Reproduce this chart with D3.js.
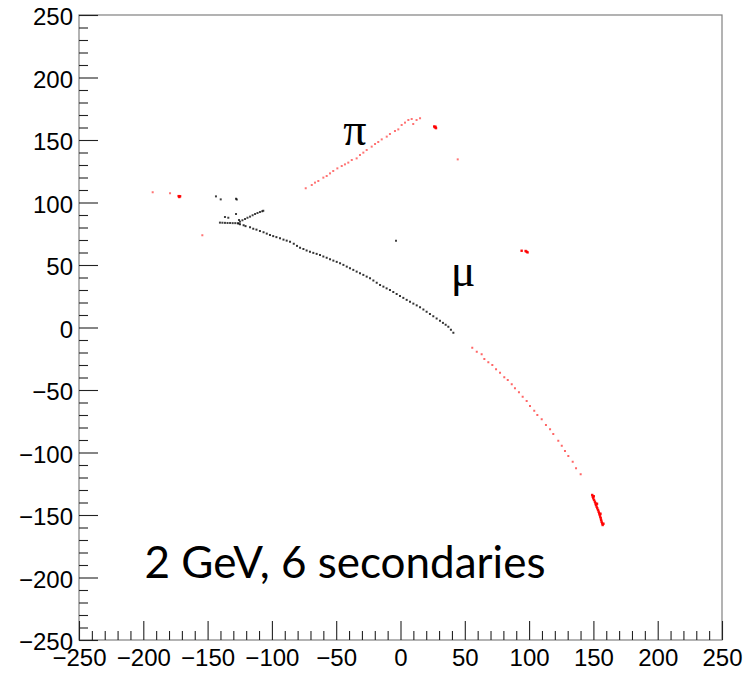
<!DOCTYPE html>
<html>
<head>
<meta charset="utf-8">
<script src="https://cdn.jsdelivr.net/npm/d3@7"></script>
<style>
  body { margin: 0; background: #fff; }
  .axis text { font-family: "Liberation Sans", Arial, sans-serif; font-size: 24px; fill: #000; }
</style>
</head>
<body>
<div id="graph_here"></div>
<script>
const muonTrack = [[-126,83.2],[-124.8,82.6],[-122,81.8],[-120.5,81.1],[-117,80.2],[-114.5,79.0],[-112,78.3],[-109.3,77.2],
  [-106.5,76.2],[-104,75.1],[-101.5,74.0],[-99,73.1],[-96.5,72.3],[-93.7,71.4],[-91,70.3],[-88.5,69.5],[-85.9,68.6],
  [-83,67.0],[-80.5,65.3],[-78.1,63.8],[-75.5,62.8],[-73,61.6],[-70.4,60.6],[-67.8,59.7],[-65.2,58.9],[-62.6,58.0],
  [-60,56.8],[-57.4,55.8],[-54.8,54.6],[-52.2,53.5],[-49.6,52.5],[-47,51.4],[-44.4,50.1],[-41.8,48.7],[-39.3,47.4],
  [-36.7,46.1],[-34.1,44.7],[-31.5,43.4],[-28.9,42.1],[-26.3,40.7],[-23.7,39.4],[-21.1,37.6],[-18.5,35.8],[-15.9,34.0],
  [-13.3,32.7],[-10.8,31.3],[-8.2,30.0],[-5.6,28.4],[-3.0,26.8],[-0.4,25.2],[2.2,23.7],[4.8,22.1],[7.4,20.6],[10.0,19.1],
  [12.6,17.7],[15.2,16.2],[17.8,14.4],[20.3,12.6],[22.9,10.8],[25.5,9.0],[28.1,7.2],[30.7,5.4],[33.0,3.7],[35.1,2.2],
  [37.2,0.6],[39.2,-1.8],[41.1,-4.2]];

const blackHits = [[-140.4,83.9],[-138.5,83.8],[-136.5,83.7],[-134.5,83.6],[-132.5,83.6],[-130.5,83.5],[-128.5,83.5],
  [-126.5,83.4],[-136.5,88.4],[-133.9,87.8],[-127.9,90.8],[-125.6,86],[-124.8,84.7],[-122.9,85.8],[-120.9,86.8],
  [-119,87.8],[-117,88.7],[-115,89.8],[-113.1,90.8],[-111.2,91.6],[-109.3,92.4],[-107.5,93],[-106.7,93.4],
  [-143.5,104.9],[-139.8,102.5],[-127.9,103],[-127.3,102.4],[-3.5,69.4]];

const pionTrack = [[-73.7,111.4],[-69.0,114.0],[-66.5,115.9],[-63.9,117.2],[-60.0,119.9],[-57.4,121.2],[-54.8,123.3],
  [-52.3,125.2],[-49.1,127.3],[-45.7,129.2],[-43.2,130.5],[-40.6,131.9],[-37.9,134],[-34.1,135.3],[-31.5,138],
  [-28.9,139.9],[-26.3,142],[-22.4,144.7],[-19.8,146.8],[-17.3,148.4],[-14.6,150.5],[-10.7,152.7],[-8.2,154.8],
  [-4.3,157.2],[-1.7,158.5],[0.9,162],[3.5,163.9],[6.1,166],[8.7,166.8],[12.5,166],[15.2,167.4],[9.9,162.8],
  [44.5,134.5],[-192.7,108.2],[-179.2,107.4],[-154.1,73.8]];

const lowerTrack = [[55.8,-16.2],[59.3,-19.4],[63.1,-21.4],[65.2,-25.2],[68.3,-27.8],[71.4,-30],[74.3,-33.4],[77.4,-36.2],
  [80.7,-39.8],[83.4,-42],[86.5,-45.4],[89.0,-48.6],[92.1,-51.8],[95.0,-55.4],[98.1,-58.8],[100.7,-62.8],[104.0,-66.6],
  [106.4,-70],[109.8,-73.4],[113.1,-78],[116.3,-81.4],[118.8,-85.2],[122.7,-90.6],[125.4,-94.6],[127.9,-98.8],
  [130.5,-102.8],[133.9,-107.4],[136.5,-112.6],[140.1,-117.4]];

const redBlobs = [[26.8,160.1],[27.6,159.5],[26.2,160.8],[27.2,160.6],[-172,104.4],[-171.4,105],[-172.5,105.1],
  [94.2,61.4],[98.1,60.6],[97.3,61.2],[98.8,60.1],
  [149.1,-134],[149.5,-135.3],[149.9,-136.6],[150.5,-138],[151.2,-139.4],[151.6,-140.7],[152,-142],[152.5,-143.3],
  [153,-144.6],[153.6,-146],[154.1,-147.4],[154.5,-148.7],[154.9,-150],[155.3,-151.3],[155.7,-152.6],[156,-154],
  [156.4,-155.4],[156.8,-156.7],[157.2,-158],[150.3,-135],[152.8,-141],[155.5,-149],[157.8,-157]];

const majorTicks = [-250,-200,-150,-100,-50,0,50,100,150,200,250];
const minorTicks = d3.range(-250, 251, 10).filter(v => v % 50 !== 0);

const labels = [
  {text: "π", x: -44.5, y: 146, font: "Liberation Serif", size: 46},
  {text: "μ", x: 39, y: 33, font: "Liberation Serif", size: 46},
  {text: "2 GeV, 6 secondaries", x: -199, y: -200.5, font: "Lato", size: 44}
];

function drawPlot(){
    const width = 748, height = 673;
    const left = 79, right = 722, top = 15, bottom = 640;

    var svg = d3.select('#graph_here')
        .append('svg')
        .attr("width", width)
        .attr("height", height)
        .style("background-color", "white");

    const xScale = d3.scaleLinear().domain([-250, 250]).range([left, right]);
    const yScale = d3.scaleLinear().domain([-250, 250]).range([bottom, top]);

    // frame
    svg.append("rect")
        .attr("x", left).attr("y", top)
        .attr("width", right - left).attr("height", bottom - top)
        .attr("fill", "none").attr("stroke", "#808080").attr("stroke-width", 1.2);

    // ticks point into the plot, like ROOT
    const fmt = d => d < 0 ? "\u2212" + Math.abs(d) : d;
    const yMajor = d3.axisLeft(yScale).tickValues(majorTicks).tickSize(-19).tickPadding(6).tickFormat(fmt);
    const yMinor = d3.axisLeft(yScale).tickValues(minorTicks).tickSize(-9).tickFormat("");
    const xMajor = d3.axisBottom(xScale).tickValues(majorTicks).tickSize(-19).tickPadding(9).tickFormat(fmt);
    const xMinor = d3.axisBottom(xScale).tickValues(minorTicks).tickSize(-9).tickFormat("");

    svg.append("g").attr("class", "axis y").attr("transform", "translate(" + left + ",0)").call(yMajor);
    svg.append("g").attr("class", "axis y").attr("transform", "translate(" + left + ",0)").call(yMinor);
    svg.append("g").attr("class", "axis x").attr("transform", "translate(0," + bottom + ")").call(xMajor);
    svg.append("g").attr("class", "axis x").attr("transform", "translate(0," + bottom + ")").call(xMinor);
    svg.selectAll(".axis .domain").remove();
    svg.selectAll(".axis line").attr("stroke", "#222").attr("stroke-width", 1.1);
    svg.selectAll(".axis.x text").attr("dy", "0.71em");
    svg.selectAll(".axis.y text").attr("dy", "0.4em");

    // hits
    const sets = [
        {data: muonTrack, color: "#000", opacity: 0.8, size: 2},
        {data: blackHits, color: "#000", opacity: 0.75, size: 2},
        {data: pionTrack, color: "#ff0000", opacity: 0.55, size: 2},
        {data: lowerTrack, color: "#ff0000", opacity: 0.6, size: 2},
        {data: redBlobs, color: "#ff0000", opacity: 0.95, size: 2.4}
    ];
    sets.forEach(s => {
        svg.append("g").selectAll("rect")
            .data(s.data)
            .enter()
            .append("rect")
            .attr("x", d => xScale(d[0]) - s.size / 2)
            .attr("y", d => yScale(d[1]) - s.size / 2)
            .attr("width", s.size)
            .attr("height", s.size)
            .attr("fill", s.color)
            .attr("fill-opacity", s.opacity);
    });

    // annotations
    svg.append("g").selectAll("text")
        .data(labels)
        .enter()
        .append("text")
        .attr("x", d => xScale(d.x))
        .attr("y", d => yScale(d.y))
        .style("font-family", d => d.font)
        .style("font-size", d => d.size + "px")
        .attr("fill", "#000")
        .text(d => d.text);
}

window.addEventListener('load', drawPlot);
</script>
</body>
</html>
